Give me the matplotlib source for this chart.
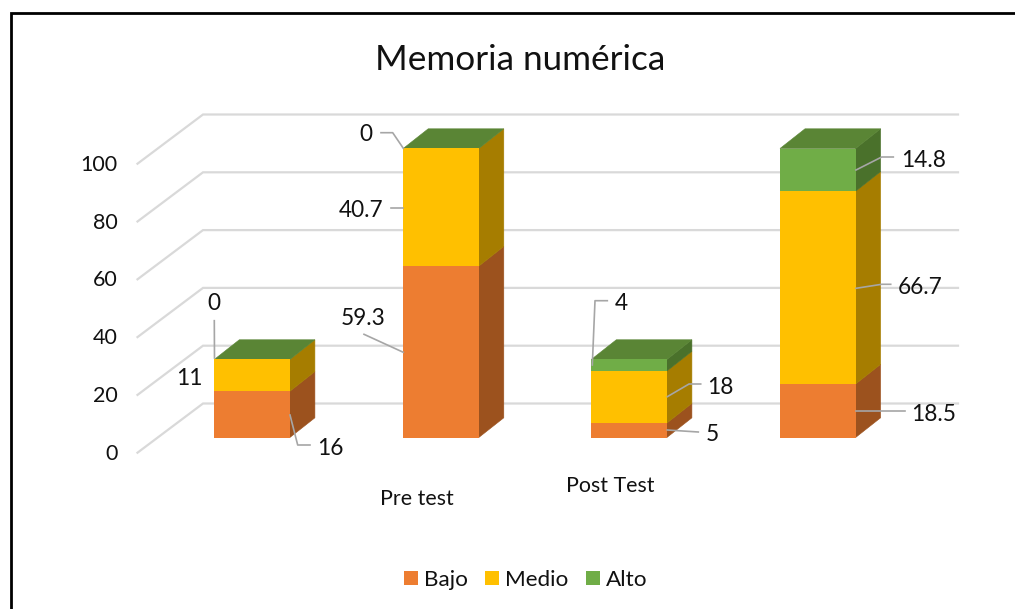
import matplotlib
matplotlib.use("Agg")
import matplotlib.pyplot as plt
import matplotlib.patches as mpatches
from matplotlib.transforms import Affine2D

plt.rcParams["font.family"] = ["Lato", "DejaVu Sans"]

W, H = 1015, 609

# data
groups = ["Pre test", "Post Test"]
series = ["Bajo", "Medio", "Alto"]
bajo = [16, 59.3, 5, 18.5]
medio = [11, 40.7, 18, 66.7]
alto = [0, 0, 4, 14.8]
y_ticks = [0, 20, 40, 60, 80, 100]

# front, side colours per series
FRONT = ["#ED7D31", "#FFC000", "#70AD47"]
SIDE = ["#9C521E", "#A67D00", "#4A712B"]
TOP = "#5A8535"
GRID = "#D9D9D9"
LEADER = "#A6A6A6"
TXT = "#111111"

# layout, pixels
ZERO_PX = 437.5
PX_PER_UNIT = 2.89
BAR_LEFT = [214.3, 403.2, 591.3, 780]
BAR_W = 75.6
DEPTH_X = 25
DEPTH_Y = 19.7 / PX_PER_UNIT
TEXT_DROP = 1.8  # Lato centres a bit high compared to the original

fig = plt.figure(figsize=(W / 100, H / 100), dpi=100)
ax = fig.add_axes([0, 0, 1, 1])
ax.set_xlim(0, W)
ax.set_ylim((ZERO_PX - H) / PX_PER_UNIT, ZERO_PX / PX_PER_UNIT)
ax.axis("off")

# pixel coords from top left, for text and leader lines
px = Affine2D().scale(1, -1).translate(0, H)

# walls
for v in y_ticks:
    ax.plot([137.5, 203, 958],
            [v - 15.2 / PX_PER_UNIT, v + 34 / PX_PER_UNIT, v + 34 / PX_PER_UNIT],
            color=GRID, lw=1.6, solid_joinstyle="miter", zorder=1)
    ax.text(117.5, v - (14.5 + TEXT_DROP) / PX_PER_UNIT, str(v), ha="right", va="center",
            fontsize=15.5, color=TXT)

# bars, side and top first so the fronts cover the seams
bottoms = [0, 0, 0, 0]
for i, vals in enumerate([bajo, medio, alto]):
    ax.bar(BAR_LEFT, vals, BAR_W, bottom=bottoms, align="edge",
           color=FRONT[i], lw=0, zorder=4)
    for x, b, v in zip(BAR_LEFT, bottoms, vals):
        if v == 0:
            continue
        r = x + BAR_W
        ax.fill([r, r + DEPTH_X, r + DEPTH_X, r],
                [b, b + DEPTH_Y, b + v + DEPTH_Y, b + v],
                color=SIDE[i], lw=0.4, zorder=3)
    bottoms = [b + v for b, v in zip(bottoms, vals)]

for x, t in zip(BAR_LEFT, bottoms):
    ax.fill([x, x + BAR_W, x + BAR_W + DEPTH_X, x + DEPTH_X],
            [t, t, t + DEPTH_Y, t + DEPTH_Y],
            color=TOP, lw=0.4, zorder=3)

# data labels: value, text position, leader line
labels = [
    (alto[0], (214, 302), [(214.3, 320.7), (214.5, 358)]),
    (medio[0], (189, 376.7), None),
    (bajo[0], (330, 447), [(290, 415), (297.7, 445), (310, 445)]),
    (alto[1], (366, 133), [(381, 132.7), (392.7, 132.7), (403.3, 148.3)]),
    (medio[1], (360.7, 208.3), [(390.7, 207.7), (403.3, 207.7)]),
    (bajo[1], (363.3, 316.7), [(364, 334.3), (403.3, 352.3)]),
    (alto[2], (621, 301.7), [(607.3, 300.7), (595, 300.7), (592.3, 365)]),
    (medio[2], (720.7, 385.7), [(667.3, 396.7), (689, 384), (700.7, 384)]),
    (bajo[2], (712.3, 432.7), [(667.3, 430), (698.3, 432)]),
    (alto[3], (923.3, 159), [(856, 170), (881.7, 157), (893.3, 157)]),
    (medio[3], (920, 285.3), [(856, 288.3), (881.7, 284.3), (890.7, 284.3)]),
    (bajo[3], (934, 412.7), [(856, 410.7), (904.7, 410.7)]),
]
for v, (tx, ty), line in labels:
    ax.text(tx, ty + TEXT_DROP, f"{v:g}", transform=px, ha="center", va="center",
            fontsize=16.3, color=TXT, zorder=6)
    if line:
        ax.plot([p[0] for p in line], [p[1] for p in line], transform=px,
                color=LEADER, lw=1.2, zorder=5)

# category labels sit oddly in the original, kept as is
ax.text(417, 497 + TEXT_DROP, groups[0], transform=px, ha="center", va="center",
        fontsize=15.4, color=TXT)
ax.text(610, 484 + TEXT_DROP, groups[1], transform=px, ha="center", va="center",
        fontsize=15.4, color=TXT)

ax.text(520, 57 + 3, "Memoria numérica", transform=px, ha="center", va="center",
        fontsize=25.3, color=TXT)

# legend
for name, col, kx, tx in zip(series, FRONT, [404, 485, 586], [424, 505, 605.5]):
    ax.add_patch(mpatches.Rectangle((kx, 571), 14, 14, transform=px, color=col, lw=0))
    ax.text(tx, 578 + TEXT_DROP, name, transform=px, ha="left", va="center",
            fontsize=16.2, color=TXT)

# frame, only top and left survive the crop
ax.plot([10.5, 10.5, W], [H, 12.5, 12.5], transform=px, color="black", lw=2,
        solid_joinstyle="miter", zorder=7)

fig.savefig("out.png", dpi=100)
plt.close(fig)
